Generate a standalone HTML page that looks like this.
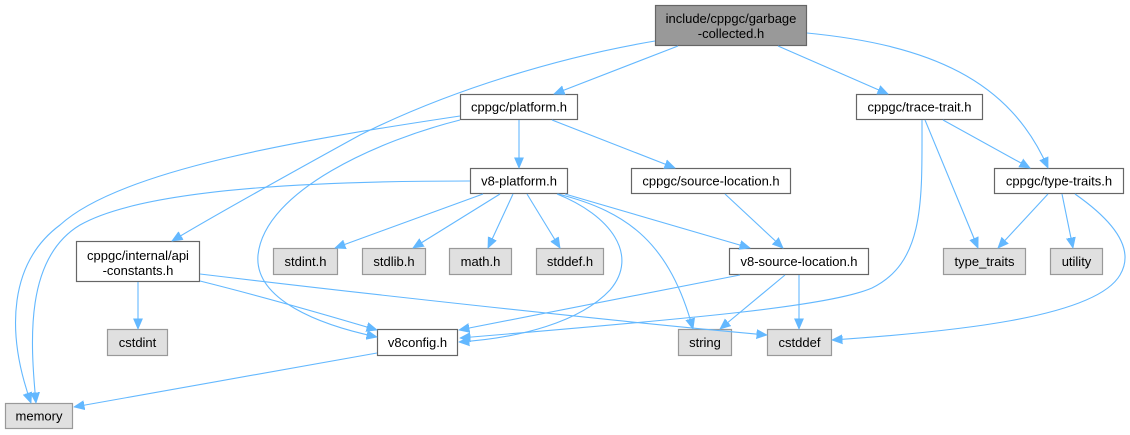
<!DOCTYPE html>
<html><head><meta charset="utf-8"><style>
html,body{margin:0;padding:0;background:#fff;width:1130px;height:435px;overflow:hidden}
svg{display:block}
text{font-family:"Liberation Sans",Arial,sans-serif;font-size:13px;fill:#000;text-anchor:middle}
.e{fill:none;stroke:#63b8ff;stroke-width:1.1;marker-end:url(#a)}
.w{fill:#fff;stroke:#666;stroke-width:1.2}
.g{fill:#e0e0e0;stroke:#999;stroke-width:1.2}
.r{fill:#999;stroke:#666;stroke-width:1.2}
</style></head><body>
<svg width="1130" height="435" viewBox="0 0 1130 435" xmlns="http://www.w3.org/2000/svg">
<defs>
<marker id="a" markerUnits="userSpaceOnUse" markerWidth="11" markerHeight="10" viewBox="0 0 11 10" refX="10.5" refY="5" orient="auto">
<path d="M0,0.5 L10.5,5 L0,9.5 z" fill="#63b8ff" stroke="#63b8ff" stroke-width="0.8"/>
</marker>
</defs>

<!-- nodes -->
<rect class="r" x="655.5" y="5.5" width="151" height="40"/>
<text x="731" y="23">include/cppgc/garbage</text>
<text x="731" y="38">-collected.h</text>

<rect class="w" x="460.5" y="94.5" width="117" height="25"/>
<text x="519" y="111.5">cppgc/platform.h</text>

<rect class="w" x="856.5" y="94.5" width="126" height="25"/>
<text x="919.5" y="111.5">cppgc/trace-trait.h</text>

<rect class="w" x="994.5" y="168.5" width="129" height="25"/>
<text x="1059" y="185.5">cppgc/type-traits.h</text>

<rect class="g" x="943.5" y="248.5" width="82" height="26"/>
<text x="984.5" y="266">type_traits</text>

<rect class="g" x="1050.5" y="248.5" width="52" height="26"/>
<text x="1076.5" y="266">utility</text>

<rect class="w" x="470.5" y="168.5" width="97" height="25"/>
<text x="519" y="185.5">v8-platform.h</text>

<rect class="w" x="631.5" y="168.5" width="159" height="25"/>
<text x="711" y="185.5">cppgc/source-location.h</text>

<rect class="g" x="273.5" y="248.5" width="64" height="26"/>
<text x="305.5" y="266">stdint.h</text>

<rect class="g" x="362.5" y="248.5" width="63" height="26"/>
<text x="394" y="266">stdlib.h</text>

<rect class="g" x="449.5" y="248.5" width="62" height="26"/>
<text x="480.5" y="266">math.h</text>

<rect class="g" x="536.5" y="248.5" width="67" height="26"/>
<text x="570" y="266">stddef.h</text>

<rect class="w" x="729.5" y="248.5" width="139" height="26"/>
<text x="799" y="266">v8-source-location.h</text>

<rect class="w" x="76.5" y="241.5" width="123" height="40"/>
<text x="138" y="260">cppgc/internal/api</text>
<text x="138" y="275">-constants.h</text>

<rect class="g" x="107.5" y="329.5" width="60" height="26"/>
<text x="137.5" y="347">cstdint</text>

<rect class="w" x="377.5" y="329.5" width="80" height="26"/>
<text x="417.5" y="347">v8config.h</text>

<rect class="g" x="678.5" y="329.5" width="53" height="26"/>
<text x="705" y="347">string</text>

<rect class="g" x="767.5" y="329.5" width="64" height="26"/>
<text x="799.5" y="347">cstddef</text>

<rect class="g" x="5.5" y="403.5" width="67" height="25"/>
<text x="39" y="420.5">memory</text>

<!-- edges -->
<path class="e" d="M678,46 L554,94"/>
<path class="e" d="M655,41 C560,57 450,90 360,135 C300,168 220,212 172,241"/>
<path class="e" d="M778,46 L888,94"/>
<path class="e" d="M807,33 C930,45 1010,80 1048,168"/>
<path class="e" d="M519,120 L519,168"/>
<path class="e" d="M552,120 L675,168"/>
<path class="e" d="M460,116 C300,140 120,170 60,225 C10,262 5,330 31,403"/>
<path class="e" d="M460,120 C380,140 265,190 258,255 C254,300 320,325 377,337"/>
<path class="e" d="M943,120 L1030,168"/>
<path class="e" d="M925,120 L978,248"/>
<path class="e" d="M922,120 C922,200 925,262 872,288 C830,306 700,318 460,338"/>
<path class="e" d="M1048,194 L998,248"/>
<path class="e" d="M1062,194 L1073,248"/>
<path class="e" d="M1075,194 C1115,222 1135,250 1120,275 C1095,318 950,332 832,340"/>
<path class="e" d="M470,181 C350,181 150,185 80,225 C25,258 30,340 36,403"/>
<path class="e" d="M483,194 L335,248"/>
<path class="e" d="M500,194 L413,248"/>
<path class="e" d="M513,194 L488,248"/>
<path class="e" d="M527,194 L560,248"/>
<path class="e" d="M557,194 C610,215 640,255 610,290 C580,322 520,338 459,342"/>
<path class="e" d="M558,194 C630,212 670,245 693,329"/>
<path class="e" d="M565,194 L750,248"/>
<path class="e" d="M725,194 L783,248"/>
<path class="e" d="M740,275 L459,330"/>
<path class="e" d="M785,275 L720,329"/>
<path class="e" d="M799,275 L799,329"/>
<path class="e" d="M138,282 L138,329"/>
<path class="e" d="M200,281 C260,296 320,313 377,330"/>
<path class="e" d="M200,274 C350,292 600,320 767,335"/>
<path class="e" d="M377,353 L74,407"/>
</svg>
</body></html>
